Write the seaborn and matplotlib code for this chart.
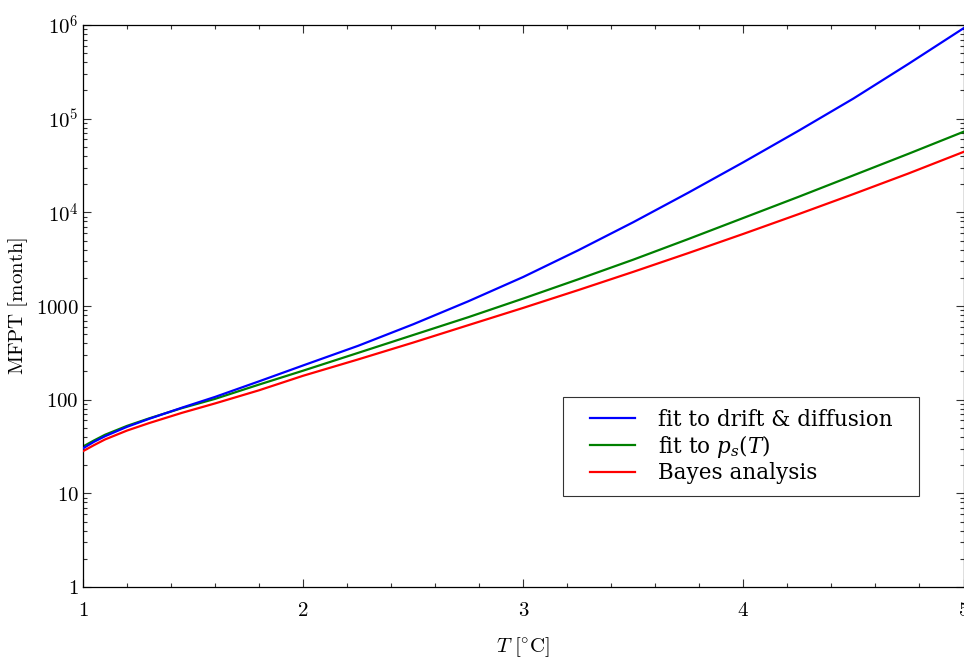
import numpy as np
import pandas as pd
import matplotlib
matplotlib.use("Agg")
import matplotlib.pyplot as plt
from matplotlib.lines import Line2D
from matplotlib.legend_handler import HandlerLine2D
from matplotlib.ticker import FixedLocator, MultipleLocator, LogLocator, NullFormatter
from matplotlib.font_manager import FontProperties
import seaborn as sns

# Temperature grid [deg C]
temperature = [1.0, 1.05, 1.1, 1.2, 1.3, 1.45, 1.6, 1.8, 2.0, 2.25, 2.5, 2.75,
               3.0, 3.25, 3.5, 3.75, 4.0, 4.25, 4.5, 4.75, 5.0]

# Mean first passage time [month] for each model
mfpt_drift_diffusion = [30.2, 35.5, 40.7, 51.3, 62.4, 82.2, 107, 157, 232, 376, 638, 1122,
                        2042, 3936, 7852, 16218, 34277, 74131, 164059, 384592, 922571]
mfpt_ps_fit = [31.6, 36.7, 42.2, 52.5, 63.1, 81.3, 102, 145, 204, 316, 490, 759,
               1202, 1928, 3126, 5188, 8710, 14622, 24831, 42170, 72444]
mfpt_bayes = [28.2, 32.7, 37.6, 46.8, 56.2, 72.4, 91.2, 126, 180, 269, 407, 624,
              955, 1479, 2317, 3673, 5888, 9550, 15668, 26002, 44157]

labels = ["fit to drift & diffusion", r"fit to $\mathit{p_s(T)}$", "Bayes analysis"]
colors = ["#0000ff", "#008000", "#ff0000"]

y_ticks = [1, 10, 100, 1000, 1e4, 1e5, 1e6]
y_tick_labels = ["$1$", "$10$", "$100$", "$1000$", "$10^4$", "$10^5$", "$10^6$"]
x_ticks = [1, 2, 3, 4, 5]

df = pd.concat([
    pd.DataFrame({"T": temperature, "MFPT": vals, "model": lab})
    for vals, lab in zip([mfpt_drift_diffusion, mfpt_ps_fit, mfpt_bayes], labels)
])

plt.rcParams["mathtext.fontset"] = "cm"
plt.rcParams["font.family"] = ["DejaVu Serif"]

fig = plt.figure(figsize=(9.64, 6.59), dpi=100)
ax = fig.add_axes([83 / 964, 1 - 587 / 659, 880.5 / 964, 562 / 659])

sns.lineplot(data=df, x="T", y="MFPT", hue="model", hue_order=labels,
             palette=colors, linewidth=1.6, legend=False, ax=ax, sort=True,
             errorbar=None)
lines = ax.get_lines()[:3]
for ln, z in zip(lines, [4, 2, 3]):
    ln.set_zorder(z)

ax.set_yscale("log")
ax.set_xlim(1, 5)
ax.set_ylim(1, 1e6)

ax.xaxis.set_major_locator(FixedLocator(x_ticks))
ax.xaxis.set_minor_locator(MultipleLocator(0.2))
ax.set_xticklabels([f"${t}$" for t in x_ticks])
ax.yaxis.set_major_locator(FixedLocator(y_ticks))
ax.yaxis.set_minor_locator(LogLocator(base=10, subs=np.arange(2, 10), numticks=20))
ax.yaxis.set_minor_formatter(NullFormatter())
ax.set_yticklabels(y_tick_labels)

ax.tick_params(which="both", direction="in", top=True, right=True, width=0.8, color="#333333")
ax.tick_params(which="major", length=5.8)
ax.tick_params(which="minor", length=2.9)
ax.tick_params(axis="x", which="major", pad=10, labelsize=15)
ax.tick_params(axis="y", which="major", pad=3, labelsize=15)

for sp in ax.spines.values():
    sp.set_linewidth(0.9)
    sp.set_color("black")
    sp.set_visible(True)

ax.set_xlabel(r"$T\ [^{\circ}\mathrm{C}]$", fontsize=15, labelpad=11)
ax.set_ylabel(r"$\mathrm{MFPT\ [month]}$", fontsize=15, labelpad=4)

leg_font = FontProperties(family="DejaVu Serif", size=15.5, math_fontfamily="dejavuserif")
leg = ax.legend(lines, labels, loc="upper left",
                bbox_to_anchor=(480 / 880, 90 / 562, 356 / 880, 100 / 562),
                bbox_transform=ax.transAxes, mode="expand", borderaxespad=0,
                prop=leg_font, fancybox=False, frameon=True,
                handlelength=2.77, handletextpad=1.07, labelspacing=0.1,
                borderpad=0.55, handler_map={Line2D: HandlerLine2D(xpad=0.67)})
leg.get_frame().set_edgecolor("black")
leg.get_frame().set_linewidth(0.8)
for h in leg.get_lines():
    h.set_linewidth(1.6)

fig.savefig("out.png", dpi=100)
